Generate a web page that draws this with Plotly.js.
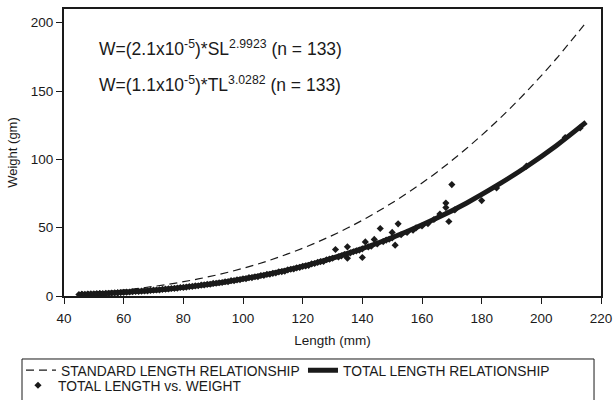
<!DOCTYPE html>
<html>
<head>
<meta charset="utf-8">
<script src="https://cdn.plot.ly/plotly-3.0.1.min.js"></script>
<style>
  html, body { margin: 0; padding: 0; background: #fff; }
  #chart { width: 614px; height: 400px; }
</style>
</head>
<body>
<div id="chart"></div>
<script>
// Fitted relationship curves
const curveLength = [45, 55, 65, 75, 85, 95, 105, 115, 125, 135, 145, 155, 165, 175, 185, 195, 205, 215];
const standardWeight = [1.9, 3.4, 5.6, 8.6, 12.5, 17.4, 23.4, 30.8, 39.5, 49.7, 61.6, 75.2, 90.6, 108.1, 127.7, 149.5, 173.6, 200.2];
const totalWeight = [1.1, 2.0, 3.4, 5.2, 7.6, 10.6, 14.5, 19.1, 24.6, 31.1, 38.6, 47.2, 57.0, 68.1, 80.7, 94.6, 110.0, 127.2];

// Observed total length vs. weight (n = 133)
const obsLength = [
  45, 46, 46, 47, 48, 48, 49, 50, 51, 52, 52, 53, 54, 55, 56, 57, 58, 58, 59, 60,
  61, 62, 63, 64, 65, 66, 67, 68, 69, 70, 71, 72, 73, 74, 75, 76, 77, 78, 79, 80,
  81, 82, 83, 84, 85, 86, 87, 88, 89, 90, 91, 92, 93, 94, 95, 96, 97, 98, 99, 100,
  101, 102, 103, 104, 105, 106, 107, 108, 109, 110, 111, 112, 113, 114, 115, 116, 117, 118, 119, 120,
  121, 122, 123, 124, 125, 126, 127, 128, 129, 130,
  131, 132, 133, 134, 135, 135, 136, 137, 138, 139, 140, 140, 141, 142, 143, 144, 145, 146, 147, 148,
  149, 150, 150, 151, 152, 153, 155, 157, 158, 160,
  162, 164, 166, 168, 168, 169, 170, 171, 180, 185, 195, 208, 213
];
const obsWeight = [
  1.1, 1.2, 1.3, 1.2, 1.4, 1.3, 1.5, 1.5, 1.7, 1.7, 1.8, 1.8, 2.0, 2.0, 2.2, 2.3, 2.4, 2.3, 2.5, 2.7,
  2.8, 2.9, 3.1, 3.3, 3.3, 3.6, 3.7, 3.8, 4.1, 4.3, 4.4, 4.5, 4.9, 5.0, 5.2, 5.5, 5.6, 5.8, 6.2, 6.3,
  6.5, 6.9, 7.0, 7.4, 7.5, 8.0, 8.1, 8.5, 8.6, 9.2, 9.3, 9.7, 9.9, 10.4, 10.5, 11.2, 11.2, 11.8, 12.0, 12.6,
  12.7, 13.4, 13.5, 14.1, 14.2, 15.0, 15.1, 15.8, 15.9, 16.6, 16.8, 17.6, 17.8, 18.2, 19.1, 19.6, 19.8, 20.6, 20.9, 21.7,
  22.0, 22.4, 23.5, 23.8, 24.6, 25.2, 25.3, 26.5, 27.0, 27.6,
  34.0, 28.6, 29.4, 30.3, 36.0, 27.7, 31.6, 32.4, 33.0, 33.6, 28.2, 34.5, 39.6, 35.9, 36.4, 41.4, 38.1, 49.4, 39.8, 40.9,
  41.5, 46.5, 42.5, 37.2, 52.8, 44.8, 46.5, 48.2, 49.8, 51.2,
  53.0, 56.0, 60.0, 64.7, 68.0, 54.5, 81.5, 63.0, 69.8, 79.0, 95.0, 116.0, 123.0
];

const xTicks = [40, 60, 80, 100, 120, 140, 160, 180, 200, 220];
const yTicks = [0, 50, 100, 150, 200];

const FONT = 'Liberation Sans, Arial, sans-serif';
const INK = '#1a1a1a';

const traces = [
  {
    x: curveLength, y: standardWeight, type: 'scatter', mode: 'lines',
    name: 'STANDARD LENGTH RELATIONSHIP',
    line: { color: INK, width: 1.2, dash: '8px,5px', shape: 'spline' },
    legend: 'legend', legendwidth: 237
  },
  {
    x: curveLength, y: totalWeight, type: 'scatter', mode: 'lines',
    name: 'TOTAL LENGTH RELATIONSHIP',
    line: { color: INK, width: 5, shape: 'spline' },
    legend: 'legend', legendwidth: 220
  },
  {
    x: obsLength, y: obsWeight, type: 'scatter', mode: 'markers',
    name: 'TOTAL LENGTH vs. WEIGHT',
    marker: { symbol: 'diamond', size: 5.5, color: INK },
    legend: 'legend2', legendwidth: 200
  }
];

const legendFont = { family: FONT, size: 13.8, color: INK };

const layout = {
  width: 614, height: 400,
  margin: { l: 64, r: 13, t: 9, b: 104, autoexpand: false },
  paper_bgcolor: '#fff', plot_bgcolor: '#fff',
  font: { family: FONT, size: 13.5, color: INK },
  showlegend: true,
  xaxis: {
    range: [40, 220], tickvals: xTicks, ticktext: xTicks.map(String),
    showgrid: false, zeroline: false,
    showline: true, linecolor: INK, linewidth: 2, mirror: true,
    ticks: 'outside', ticklen: 6, tickcolor: INK, tickwidth: 1,
    ticklabelstandoff: 3,
    tickfont: { family: FONT, size: 13.5, color: INK },
    title: { text: 'Length (mm)', font: { family: FONT, size: 13.5, color: INK }, standoff: 10 }
  },
  yaxis: {
    range: [0, 210], tickvals: yTicks, ticktext: yTicks.map(String),
    showgrid: false, zeroline: false,
    showline: true, linecolor: INK, linewidth: 2, mirror: true,
    ticks: 'outside', ticklen: 6, tickcolor: INK, tickwidth: 1,
    tickfont: { family: FONT, size: 13.5, color: INK },
    title: { text: 'Weight (gm)', font: { family: FONT, size: 13, color: INK }, standoff: 10 }
  },
  legend: {
    orientation: 'h',
    x: -0.0801, xanchor: 'left',
    y: -0.2047, yanchor: 'top',
    borderwidth: 0, bgcolor: 'rgba(0,0,0,0)',
    font: legendFont, tracegroupgap: 0
  },
  legend2: {
    orientation: 'h',
    x: -0.0857, xanchor: 'left',
    y: -0.2570, yanchor: 'top',
    borderwidth: 0, bgcolor: 'rgba(0,0,0,0)',
    font: legendFont, tracegroupgap: 0
  },
  shapes: [
    {
      type: 'rect', xref: 'paper', yref: 'paper',
      x0: -0.0782, x1: 0.987, y0: -0.2195, y1: -0.38,
      line: { color: INK, width: 1 }, fillcolor: 'rgba(0,0,0,0)', layer: 'below'
    }
  ],
  annotations: [
    {
      xref: 'paper', yref: 'paper', x: 0.062, y: 0.864, xanchor: 'left', yanchor: 'middle',
      text: 'W=(2.1x10<sup>-5</sup>)*SL<sup>2.9923</sup> (n = 133)',
      showarrow: false, font: { family: FONT, size: 17.5, color: INK }
    },
    {
      xref: 'paper', yref: 'paper', x: 0.062, y: 0.739, xanchor: 'left', yanchor: 'middle',
      text: 'W=(1.1x10<sup>-5</sup>)*TL<sup>3.0282</sup> (n = 133)',
      showarrow: false, font: { family: FONT, size: 17.5, color: INK }
    }
  ]
};

Plotly.newPlot('chart', traces, layout, { displayModeBar: false, staticPlot: true });
</script>
</body>
</html>
